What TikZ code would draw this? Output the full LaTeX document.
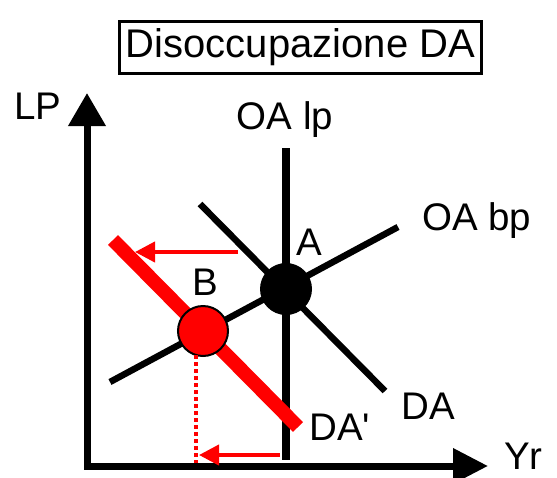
\documentclass[tikz,border=0pt]{standalone}
\usepackage{fontspec}
\setmainfont{Liberation Sans}
\newfontfamily\plainsans[Ligatures=TeXOff]{Liberation Sans}
\usetikzlibrary{arrows.meta}
\begin{document}
\begin{tikzpicture}[x=1pt,y=-1pt,
  lbl/.style={anchor=base west,inner sep=0pt,font=\fontsize{38.5}{40}\selectfont},
  axisline/.style={line width=7pt,{Triangle[length=33pt,width=36pt]}-{Triangle[length=35pt,width=34pt]}},
  curveline/.style={line width=6.5pt},
  shiftarrow/.style={red,line width=4pt,-{Triangle[length=20pt,width=20pt]}}]
\useasboundingbox (0,0) rectangle (557,477);
% title
\node[draw,line width=3pt,inner sep=0pt,minimum width=362pt,minimum height=52pt,
  font=\fontsize{40}{42}\selectfont] (title) at (300.5,47.5) {Disoccupazione DA};
% axes
\coordinate (O) at (87,466);
\coordinate (ytip) at (87,93);
\coordinate (xtip) at (488,466);
\draw[axisline] (ytip) -- (O) -- (xtip);
\node[lbl] (LP) at (14,119) {LP};
\node[lbl] (Yr) at (504,469) {Yr};
% curves
\coordinate (lpT) at (286,148);
\coordinate (lpB) at (286,460);
\draw[line width=8pt] (lpT) -- (lpB);
\coordinate (bpL) at (110,382);
\coordinate (bpR) at (398,227);
\draw[curveline] (bpL) -- (bpR);
\coordinate (daT) at (200,204);
\coordinate (daB) at (385,391);
\draw[curveline] (daT) -- (daB);
\coordinate (dapT) at (113,240);
\coordinate (dapB) at (298,427);
\draw[red,line width=14pt] (dapT) -- (dapB);
% points
\node[circle,fill=black,minimum size=52pt,inner sep=0pt] (A) at (286,289) {};
\node[circle,fill=red,draw=black,line width=2pt,minimum size=50pt,inner sep=0pt] (B) at (203,331) {};
\coordinate (dotTop) at (196,355);
\coordinate (dotBot) at (196,463);
\draw[red,line width=3.5pt,dash pattern=on 4pt off 3pt] (dotTop) -- (dotBot);
% shifts
\coordinate (s1a) at (238,252);
\coordinate (s1b) at (135,252);
\draw[shiftarrow] (s1a) -- (s1b);
\coordinate (s2a) at (280,455);
\coordinate (s2b) at (199,455);
\draw[shiftarrow] (s2a) -- (s2b);
% labels
\node[lbl,anchor=base] (lp) at (285,129) {OA lp};
\node[lbl] (bp) at (422,230) {OA bp};
\node[lbl] (Al) at (296,255) {A};
\node[lbl] (Bl) at (192,295) {B};
\node[lbl] (DAl) at (401,419) {DA};
\node[lbl] (DApl) at (309,440) {\plainsans DA'};
\end{tikzpicture}
\end{document}
